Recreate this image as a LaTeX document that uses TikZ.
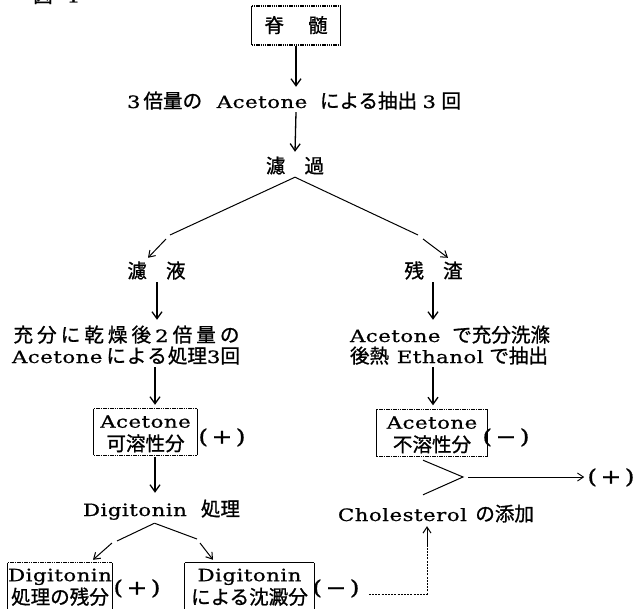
\documentclass[tikz,border=0pt]{standalone}
\usepackage{fontspec}
\setmainfont{DejaVu Serif}[FakeStretch=1.25, FakeBold=0.8, LetterSpace=3]
\newfontfamily\jfont{Noto Sans CJK JP}[Scale=1.15, FakeBold=1]
\newcommand{\J}[1]{{\jfont #1}}
\usetikzlibrary{arrows.meta,calc}
\newcommand{\boxedges}[2]{%
  \draw[sidel] (#1.north west) -- (#1.south west) (#1.north east) -- (#1.south east);
  \draw[#2] (#1.north west) -- (#1.north east) (#1.south west) -- (#1.south east);}
\tikzset{
  lbl/.style={inner sep=0pt, text height=16pt, text depth=2pt},
  pm/.style={inner sep=0pt, text height=16pt, text depth=3pt, font=\fontsize{20}{24}\selectfont},
  bx/.style={inner sep=0pt, align=center},
  arr/.style={line width=1.3pt, -{Straight Barb[length=7pt,width=10pt,line width=1.3pt]}},
  sarr/.style={line width=1pt, -{Straight Barb[length=6pt,width=8pt,line width=1pt]}},
  thinl/.style={line width=1pt},
  sidel/.style={line width=1.1pt},
  dotl/.style={line width=0.8pt, dash pattern=on 1.6pt off 0.7pt},
  dblline/.style={line width=1.6pt, dash pattern=on 1.4pt off 0.8pt},
  dashl/.style={line width=0.9pt, dash pattern=on 2pt off 1.2pt},
}
\begin{document}
\begin{tikzpicture}[x=1pt,y=-1pt,every node/.style={font=\fontsize{17}{23}\selectfont}]
\fill[white] (0,0) rectangle (634,609);
\useasboundingbox (0,0) rectangle (634,609);

\node[lbl,anchor=base west] (fig) at (33,2.5) {\J{図}\hspace{14pt}1};

\node[lbl,minimum width=88pt,minimum height=39pt] (spinal) at (296,25.5) {\J{脊\hspace{24pt}髄}};
\boxedges{spinal}{dblline}

\node[lbl] (extract) at (294,101) {\makebox[334pt][s]{3\hspace{3pt}\J{倍量の}\hspace{10pt plus 1fil}Acetone\hspace{8pt plus 1fil}\J{による抽出}\hspace{4pt plus .3fil}3\hspace{4pt plus .3fil}\J{回}}};
\node[lbl] (filter) at (295,166) {\J{濾\hspace{19pt}過}};
\node[lbl] (filtrate) at (156.5,271) {\J{濾\hspace{19pt}液}};
\node[lbl] (residue) at (433.5,271) {\J{残\hspace{19pt}渣}};

\node[lbl] (lt1) at (126.5,335) {\makebox[226pt][s]{\J{充}\hfil\J{分}\hfil\J{に}\hfil\J{乾}\hfil\J{燥}\hfil\J{後}\hfil 2\hfil\J{倍}\hfil\J{量}\hfil\J{の}}};
\node[lbl] (lt2) at (126,356) {\makebox[228pt][s]{Acetone\hspace{3pt plus 1fil}\J{に}\hfil\J{よ}\hfil\J{る}\hfil\J{処理}3\J{回}}};
\node[lbl] (rt1) at (450,335) {\makebox[200pt][s]{Acetone\hspace{6pt plus 1fil}\J{で充分洗滌}}};
\node[lbl] (rt2) at (449,356) {\makebox[198pt][s]{\J{後熱}\hspace{6pt plus 1fil}Ethanol\hspace{4pt plus 1fil}\J{で抽出}}};

\node[bx,minimum width=103pt,minimum height=46pt] (sol) at (145.5,432) {\rule{0pt}{17.4pt}Acetone\\\J{可溶性分}\rule[-3pt]{0pt}{3pt}};
\boxedges{sol}{dotl}
\node[bx,minimum width=110pt,minimum height=47pt] (insol) at (432,433) {\rule{0pt}{17.4pt}Acetone\\\J{不溶性分}\rule[-3pt]{0pt}{3pt}};
\boxedges{insol}{dotl}
\node[pm] (plus1) at (222,437) {(\,+\,)};
\node[pm] (minus1) at (506,437) {(\,−\,)};

\node[lbl] (digi) at (161.5,509) {\makebox[157pt][s]{Digitonin\hspace{8pt plus 1fil}\J{処理}}};
\node[lbl] (chol) at (436,514) {\makebox[196pt][s]{Cholesterol\hspace{8pt plus 1fil}\J{の添加}}};
\node[pm] (plus3) at (611,477) {(\,+\,)};

\node[bx,minimum width=103pt,minimum height=48pt] (lres) at (60,587) {\rule{0pt}{14.4pt}Digitonin\\\J{処理の残分}\rule[-3pt]{0pt}{3pt}};
\draw[sidel] (lres.north west) -- (lres.south west) (lres.north east) -- (lres.south east);
\draw[dotl] (lres.north west) -- (lres.north east);
\node[bx,minimum width=129pt,minimum height=48pt] (rppt) at (249.5,587) {\rule{0pt}{14.4pt}Digitonin\\\J{による沈澱分}\rule[-3pt]{0pt}{3pt}};
\draw[sidel] (rppt.north west) -- (rppt.south west) (rppt.north east) -- (rppt.south east);
\draw[line width=1.3pt] (rppt.north west) -- (rppt.north east);
\node[pm] (plus2) at (137,588) {(\,+\,)};
\node[pm] (minus2) at (336,588) {(\,−\,)};

% main column
\draw[arr] ($(spinal.south)+(0,1)$) -- ($(extract.north)+(2,-5)$);
\draw[arr] ($(extract.south)+(2,2)$) -- ($(filter.north)+(0,-5)$);
\coordinate (fa) at ($(filter.south)+(0,2)$);
\coordinate (kl) at (170,235);
\coordinate (kl2) at (166,239);
\coordinate (kr) at (418,235);
\coordinate (kr2) at (423,239);
\draw[thinl] (fa) -- (kl);
\draw[sarr] (kl2) -- ($(filtrate.north)+(-8.5,-4)$);
\draw[thinl] (fa) -- (kr);
\draw[sarr] (kr2) -- ($(residue.north)+(14.5,-4)$);

\draw[arr] ($(filtrate.south)+(0.5,2)$) -- ($(filtrate.south |- lt1.north)+(0.5,-6)$);
\draw[arr] ($(residue.south)+(-0.5,2)$) -- ($(residue.south |- rt1.north)+(-0.5,-6)$);
\draw[arr] ($(lt2.south)+(29,2)$) -- ($(sol.north)+(9.5,-4)$);
\draw[arr] ($(rt2.south)+(-16,2)$) -- ($(insol.north)+(1,-4)$);
\draw[arr] ($(sol.south)+(9.5,2)$) -- ($(digi.north)+(-6.5,-7)$);

% digitonin branch
\coordinate (da) at ($(digi.south)+(-7,5)$);
\coordinate (dl) at (117,541);
\coordinate (dl2) at (112,543);
\coordinate (dr) at (197,539);
\coordinate (dr2) at (200,543);
\draw[thinl] (da) -- (dl);
\draw[sarr] (dl2) -- ($(lres.north)+(33,-3)$);
\draw[thinl] (da) -- (dr);
\draw[sarr] (dr2) -- ($(rppt.north)+(-36.5,-3)$);

% merge
\coordinate (g1) at ($(insol.south)+(-9,3.5)$);
\coordinate (g2) at (463,477);
\coordinate (g3) at ($(chol.north)+(-13,-10)$);
\draw[thinl] (g1) -- (g2) -- (g3);
\draw[line width=0.8pt,-{Straight Barb[length=6pt,width=8pt,line width=0.9pt]}] ($(g2)+(5,0)$) -- ($(plus3.west)+(-3,0)$);

% dashed return
\coordinate (dc) at (427,594);
\draw[dashl] ($(minus2.east)+(9,6)$) -- (dc) -- ($(dc)+(0,-47)$);
\draw[sarr] ($(dc)+(0,-47)$) -- ($(chol.south)+(-9,3)$);
\end{tikzpicture}
\end{document}
